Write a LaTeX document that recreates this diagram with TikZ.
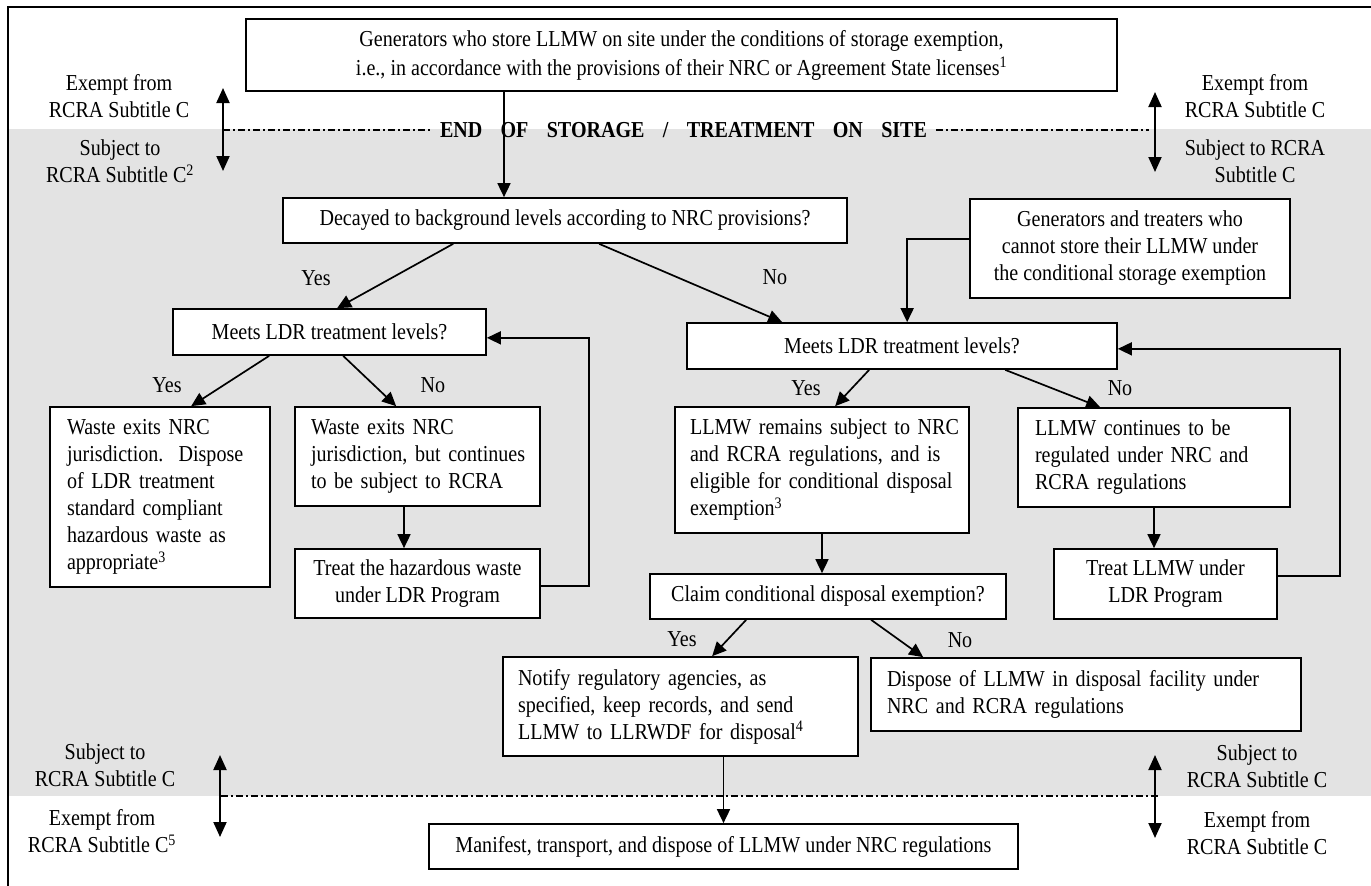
\documentclass[tikz,border=0pt]{standalone}
\usepackage{fontspec}
\setmainfont{Liberation Serif}[FakeStretch=0.88]
\usetikzlibrary{arrows.meta,calc}
\tikzset{
  box/.style={draw, line width=1.7pt, fill=white, inner sep=0pt},
  cbox/.style={box, align=center},
  lbox/.style={box, align=left},
  arr/.style={line width=1.7pt, -{Triangle[length=14pt,width=13pt]}},
  dbl/.style={line width=2pt, {Triangle[length=15pt,width=13pt]}-{Triangle[length=15pt,width=13pt]}},
  dashdot/.style={line width=1.6pt, dash pattern=on 7pt off 3pt on 2pt off 3pt},
  lbl/.style={align=center, inner sep=0pt},
  yn/.style={inner sep=0pt},
}
\newcommand{\oneline}[1]{\mbox{#1}}
\begin{document}
\begin{tikzpicture}[x=1pt,y=-1pt,font=\fontsize{22.8}{27}\selectfont]
\useasboundingbox (0,0) rectangle (1371,886);
\fill[black!11] (8,129) rectangle (1371,796);
\draw[line width=2.5pt] (8,886) -- (8,7) -- (1371,7);

% boxes
\node[cbox, minimum width=871pt, minimum height=72pt] (top) at (681.5,55)
  {Generators who store LLMW on site under the conditions of storage exemption,\\[2pt]
   i.e., in accordance with the provisions of their NRC or Agreement State licenses\textsuperscript{1}};
\node[cbox, minimum width=564pt, minimum height=45pt] (dec) at (565,220.5)
  {Decayed to background levels according to NRC provisions?};
\node[cbox, minimum width=320pt, minimum height=99pt] (gen) at (1130,248.5)
  {Generators and treaters who\\cannot store their LLMW under\\the conditional storage exemption};
\node[cbox, minimum width=313pt, minimum height=46pt] (ml) at (329.5,332)
  {Meets LDR treatment levels?};
\node[cbox, minimum width=430pt, minimum height=46pt] (mr) at (902,346)
  {Meets LDR treatment levels?};
\node[lbox, text width=186pt, inner xsep=17pt, minimum height=180pt] (wl) at (160,497)
  {\oneline{Waste exits NRC}\\\oneline{jurisdiction.\ \ Dispose}\\\oneline{of LDR treatment}\\\oneline{standard compliant}\\\oneline{hazardous waste as}\\\oneline{appropriate\textsuperscript{3}}};
\node[lbox, text width=213pt, inner xsep=16pt, minimum height=99pt] (wm) at (417.5,456.5)
  {\oneline{Waste exits NRC}\\\oneline{jurisdiction, but continues}\\\oneline{to be subject to RCRA}};
\node[cbox, minimum width=245pt, minimum height=69pt] (th) at (417.5,583.5)
  {Treat the hazardous waste\\under LDR Program};
\node[lbox, text width=264pt, inner xsep=15pt, minimum height=126pt] (rm) at (822,470)
  {\oneline{LLMW remains subject to NRC}\\\oneline{and RCRA regulations, and is}\\\oneline{eligible for conditional disposal}\\\oneline{exemption\textsuperscript{3}}};
\node[lbox, text width=238pt, inner xsep=17pt, minimum height=99pt] (ct) at (1154,457.5)
  {\oneline{LLMW continues to be}\\\oneline{regulated under NRC and}\\\oneline{RCRA regulations}};
\node[cbox, minimum width=223pt, minimum height=70pt] (tl) at (1165.5,584)
  {Treat LLMW under\\LDR Program};
\node[cbox, minimum width=356pt, minimum height=45pt] (cl) at (828,596.5)
  {Claim conditional disposal exemption?};
\node[lbox, text width=325pt, inner xsep=15pt, minimum height=99pt] (nt) at (680.5,706.5)
  {\oneline{Notify regulatory agencies, as}\\\oneline{specified, keep records, and send}\\\oneline{LLMW to LLRWDF for disposal\textsuperscript{4}}};
\node[lbox, text width=398pt, inner xsep=16pt, minimum height=73pt] (dp) at (1086,694.5)
  {\oneline{Dispose of LLMW in disposal facility under}\\\oneline{NRC and RCRA regulations}};
\node[cbox, minimum width=589pt, minimum height=45pt] (mf) at (723.5,846.5)
  {Manifest, transport, and dispose of LLMW under NRC regulations};

% end of storage line
\node[inner xsep=9pt, inner ysep=0pt] (eos) at (683.5,130)
  {\makebox[487pt][s]{\bfseries END OF STORAGE / TREATMENT ON SITE}};
\coordinate (tla) at (223,88);  \coordinate (tlb) at (223,171);
\coordinate (tra) at (1155,92); \coordinate (trb) at (1155,172);
\coordinate (bla) at (220,755); \coordinate (blb) at (220,837);
\coordinate (bra) at (1155,755); \coordinate (brb) at (1155,838);
\coordinate (tld) at (223,130); \coordinate (trd) at (1149,130);
\coordinate (bld) at (221,796); \coordinate (brd) at (1160,796);
\draw[dashdot] (tld) -- (eos.west);
\draw[dashdot] (eos.east) -- (trd);
\draw[dashdot] (bld) -- (brd);
\draw[dbl] (tla) -- (tlb);
\draw[dbl] (tra) -- (trb);
\draw[dbl] (bla) -- (blb);
\draw[dbl] (bra) -- (brb);

% side labels
\node[lbl] (l1) at (119,96.5) {Exempt from\\RCRA Subtitle C};
\node[lbl] (l2) at (120,161.5) {Subject to\\RCRA Subtitle C\textsuperscript{2}};
\node[lbl] (l3) at (1255,96.5) {Exempt from\\RCRA Subtitle C};
\node[lbl] (l4) at (1255,161.5) {Subject to RCRA\\Subtitle C};
\node[lbl] (l5) at (105,765.5) {Subject to\\RCRA Subtitle C};
\node[lbl] (l6) at (102,831.5) {Exempt from\\RCRA Subtitle C\textsuperscript{5}};
\node[lbl] (l7) at (1257,766.5) {Subject to\\RCRA Subtitle C};
\node[lbl] (l8) at (1257,833.5) {Exempt from\\RCRA Subtitle C};

% connectors
\coordinate (v1) at (504,0);
\coordinate (v3) at (404,0);
\draw[arr] (top.south -| v1) -- (dec.north -| v1);
\draw[arr] ($(dec.south west)+(171,0)$) -- ($(ml.north west)+(165,0)$);
\draw[arr] ($(dec.south west)+(317,0)$) -- ($(mr.north west)+(96,0)$);
\draw[arr] ($(gen.north west)+(0,41)$) -| ($(mr.north west)+(221,0)$);
\draw[arr] ($(ml.south west)+(97,0)$) -- ($(wl.north west)+(142,0)$);
\draw[arr] ($(ml.south west)+(171,0)$) -- ($(wm.north west)+(102,0)$);
\draw[arr] (wm.south -| v3) -- (th.north -| v3);
\draw[arr] ($(th.south east)+(0,-33)$) -- ++(48,0) |- ($(ml.south east)+(0,-18)$);
\draw[arr] ($(mr.south west)+(183,0)$) -- ($(rm.north west)+(161,0)$);
\draw[arr] ($(mr.south west)+(319,0)$) -- ($(ct.north west)+(83,0)$);
\draw[arr] (ct.south) -- (tl.north -| ct.south);
\draw[arr] ($(tl.south east)+(0,-44)$) -- ++(62,0) |- ($(mr.south east)+(0,-21)$);
\draw[arr] (rm.south) -- (cl.north -| rm.south);
\draw[arr] ($(cl.south west)+(97,0)$) -- ($(nt.north west)+(210,0)$);
\draw[arr] ($(cl.south west)+(222,0)$) -- ($(dp.north west)+(53,0)$);
\draw[arr] (nt.south -| mf.north) -- (mf.north);

% yes/no labels
\node[yn] (y1) at (316,278) {Yes};
\node[yn] (n1) at (775,277) {No};
\node[yn] (y2) at (167,385) {Yes};
\node[yn] (n2) at (433,385) {No};
\node[yn] (y3) at (806,388) {Yes};
\node[yn] (n3) at (1120,388) {No};
\node[yn] (y4) at (682,639) {Yes};
\node[yn] (n4) at (960,640) {No};
\end{tikzpicture}
\end{document}
